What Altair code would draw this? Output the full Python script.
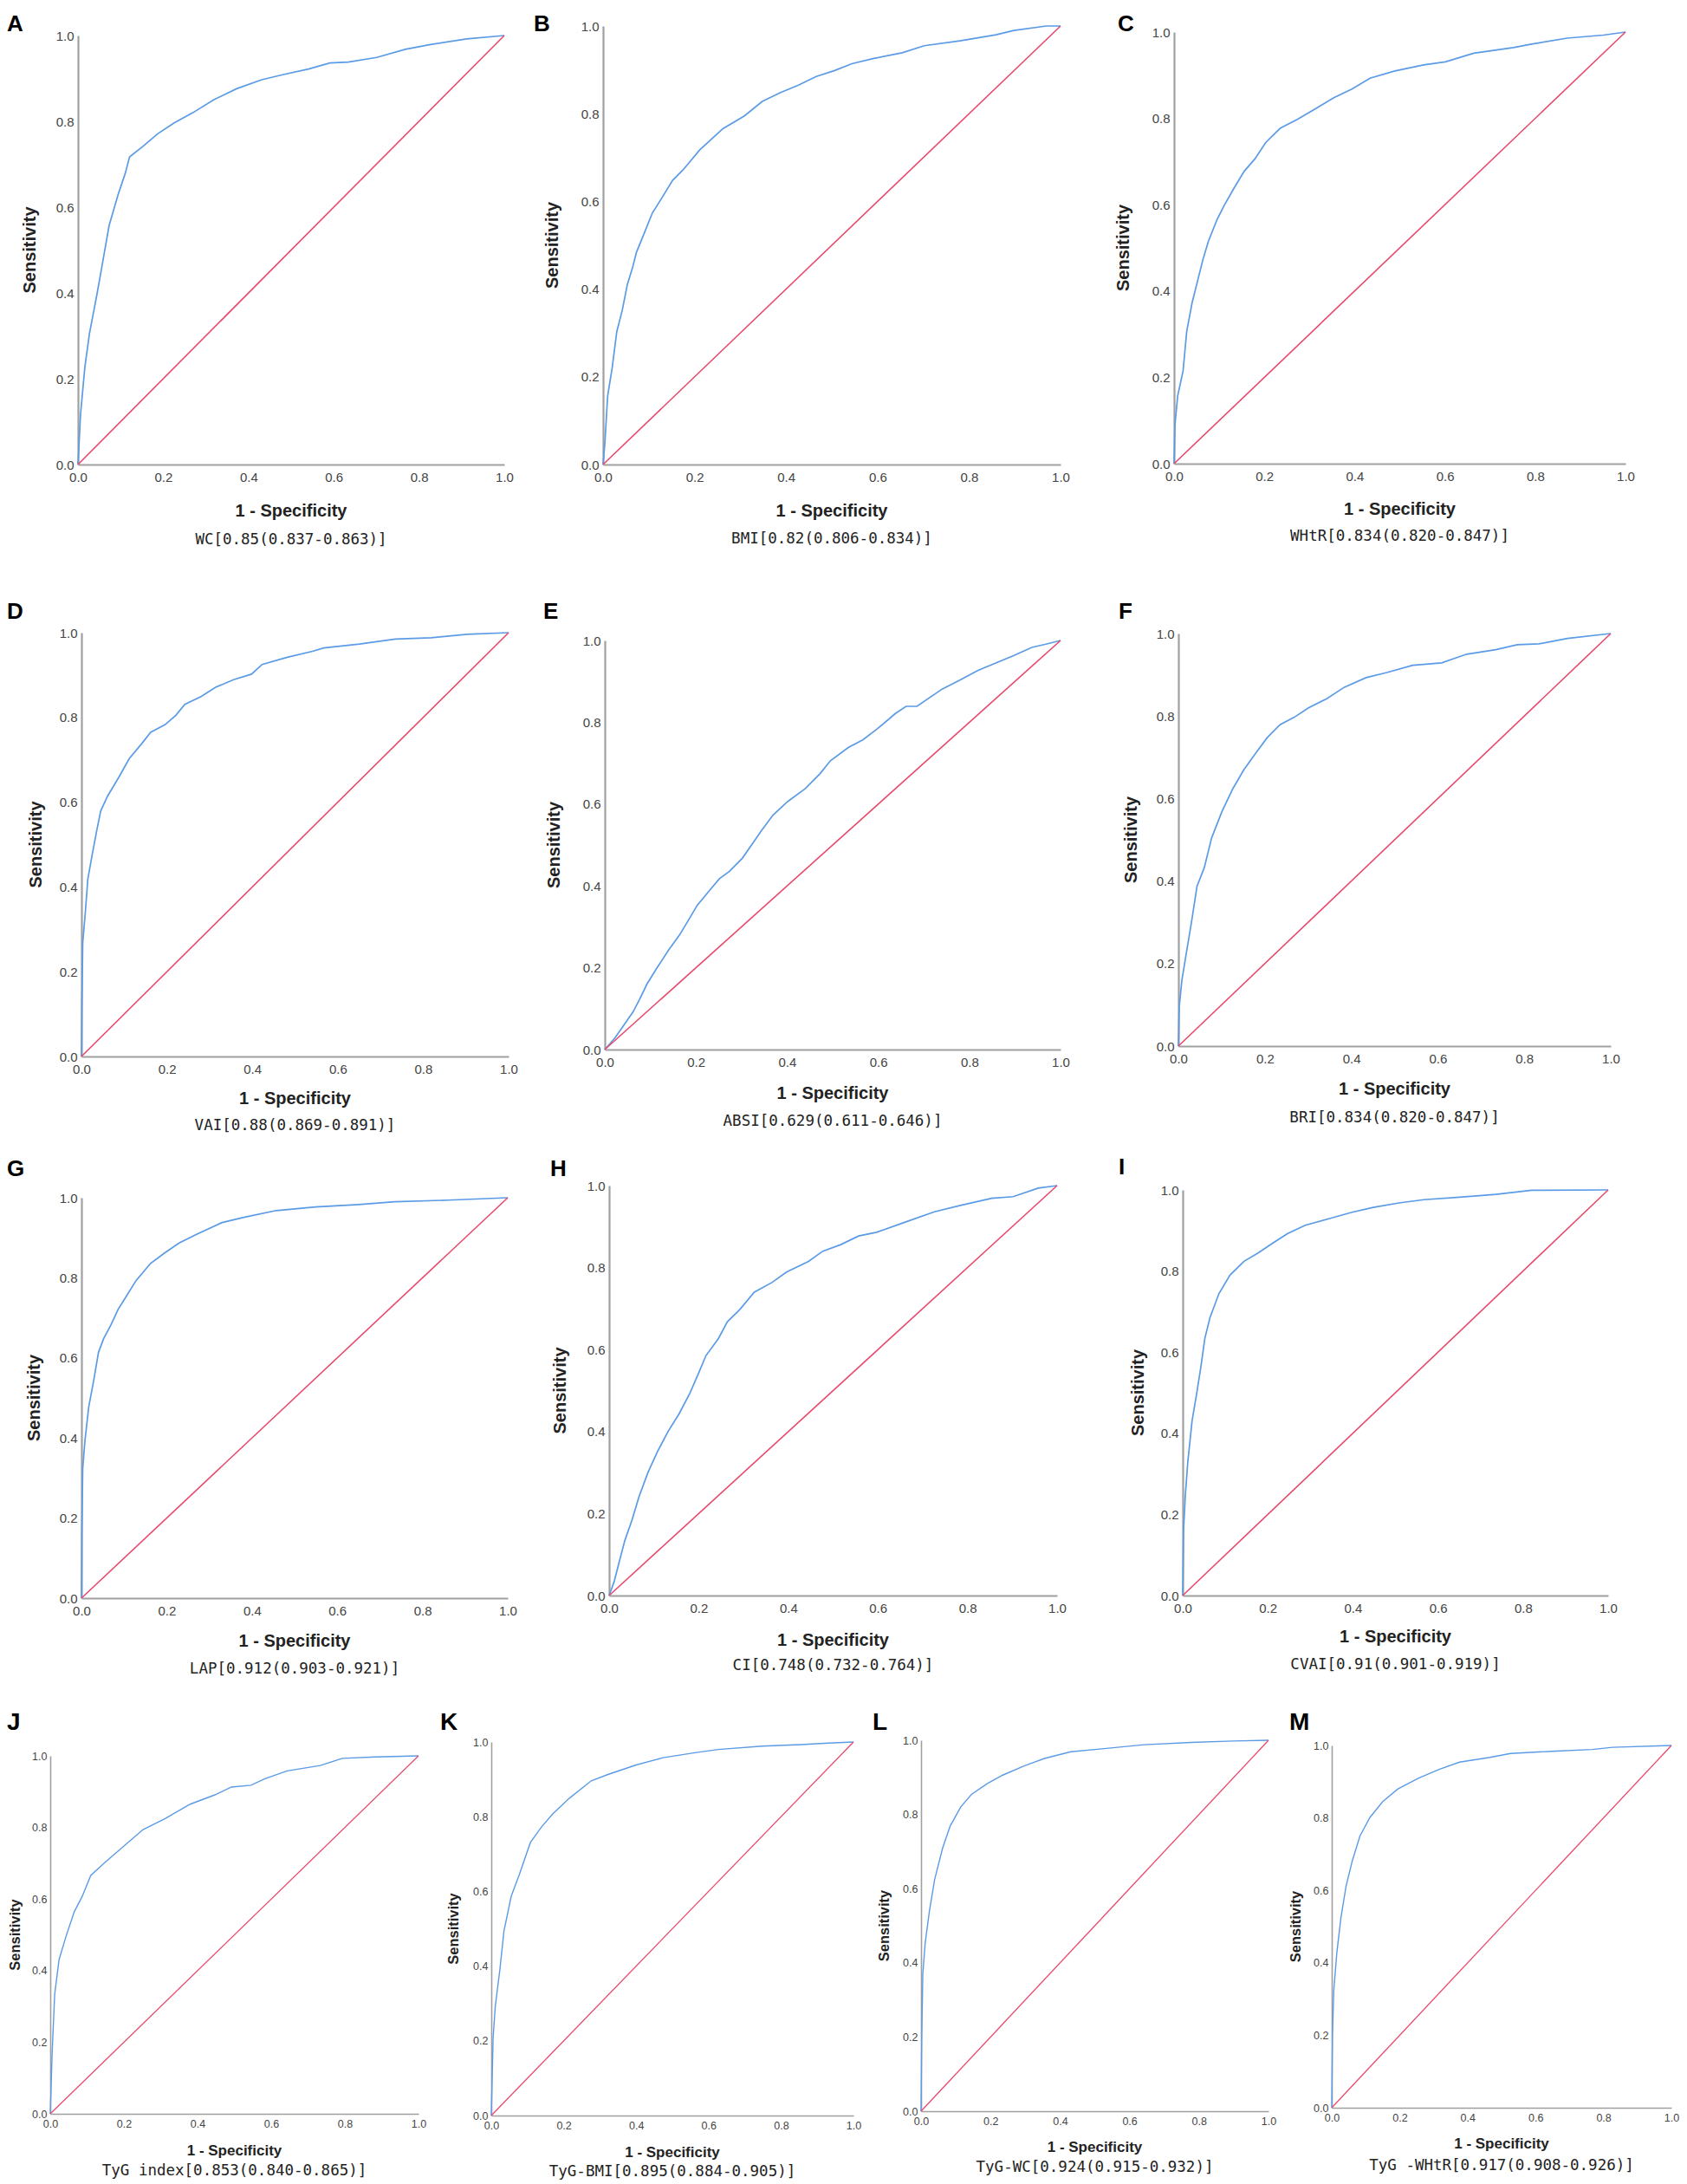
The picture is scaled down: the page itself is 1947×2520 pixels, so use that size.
import altair as alt
import pandas as pd

# ---------------- data ----------------
TICKS = [0.0, 0.2, 0.4, 0.6, 0.8, 1.0]

WC_FPR = [0, 0.006, 0.016, 0.027, 0.044, 0.056, 0.073, 0.094, 0.111, 0.121, 0.153, 0.187, 0.225, 0.271, 0.318, 0.372, 0.431, 0.482, 0.541, 0.591, 0.634, 0.701, 0.768, 0.827, 0.912, 1.0]
WC_TPR = [0, 0.117, 0.226, 0.306, 0.394, 0.461, 0.557, 0.629, 0.679, 0.717, 0.742, 0.771, 0.796, 0.821, 0.850, 0.876, 0.897, 0.909, 0.922, 0.936, 0.938, 0.949, 0.968, 0.979, 0.992, 1.0]

BMI_FPR = [0, 0.004, 0.010, 0.020, 0.030, 0.042, 0.053, 0.065, 0.073, 0.089, 0.108, 0.128, 0.152, 0.175, 0.211, 0.262, 0.309, 0.348, 0.387, 0.427, 0.466, 0.505, 0.544, 0.592, 0.654, 0.702, 0.780, 0.859, 0.898, 0.969, 1.0]
BMI_TPR = [0, 0.049, 0.156, 0.221, 0.303, 0.352, 0.410, 0.451, 0.484, 0.525, 0.574, 0.607, 0.648, 0.672, 0.717, 0.766, 0.795, 0.828, 0.848, 0.865, 0.885, 0.898, 0.914, 0.926, 0.939, 0.955, 0.966, 0.980, 0.990, 1.0, 1.0]

WHTR_FPR = [0, 0.002, 0.008, 0.020, 0.028, 0.040, 0.052, 0.064, 0.076, 0.095, 0.111, 0.131, 0.155, 0.179, 0.203, 0.235, 0.274, 0.314, 0.354, 0.394, 0.434, 0.489, 0.553, 0.601, 0.664, 0.752, 0.792, 0.871, 0.951, 1.0]
WHTR_TPR = [0, 0.090, 0.157, 0.215, 0.306, 0.373, 0.423, 0.473, 0.515, 0.565, 0.598, 0.635, 0.677, 0.706, 0.744, 0.777, 0.798, 0.823, 0.848, 0.868, 0.893, 0.910, 0.924, 0.931, 0.951, 0.964, 0.972, 0.986, 0.993, 1.0]

VAI_FPR = [0, 0.001, 0.003, 0.009, 0.015, 0.026, 0.036, 0.045, 0.061, 0.087, 0.112, 0.141, 0.162, 0.196, 0.221, 0.242, 0.280, 0.314, 0.356, 0.398, 0.423, 0.482, 0.541, 0.567, 0.651, 0.735, 0.819, 0.903, 1.0]
VAI_TPR = [0, 0.117, 0.268, 0.339, 0.419, 0.481, 0.534, 0.579, 0.614, 0.658, 0.703, 0.738, 0.765, 0.783, 0.805, 0.831, 0.849, 0.871, 0.889, 0.902, 0.925, 0.942, 0.956, 0.964, 0.973, 0.985, 0.988, 0.996, 1.0]

ABSI_FPR = [0, 0.022, 0.042, 0.062, 0.077, 0.093, 0.113, 0.140, 0.164, 0.184, 0.203, 0.227, 0.251, 0.274, 0.302, 0.322, 0.345, 0.369, 0.401, 0.440, 0.472, 0.495, 0.535, 0.566, 0.598, 0.637, 0.661, 0.685, 0.740, 0.779, 0.819, 0.858, 0.897, 0.937, 0.968, 1.0]
ABSI_TPR = [0, 0.028, 0.060, 0.092, 0.124, 0.161, 0.197, 0.243, 0.280, 0.317, 0.353, 0.385, 0.417, 0.436, 0.468, 0.500, 0.537, 0.573, 0.606, 0.638, 0.674, 0.706, 0.739, 0.757, 0.784, 0.821, 0.839, 0.839, 0.881, 0.903, 0.927, 0.945, 0.963, 0.983, 0.991, 1.0]

BRI_FPR = [0, 0.002, 0.008, 0.018, 0.031, 0.043, 0.060, 0.077, 0.101, 0.126, 0.151, 0.176, 0.205, 0.235, 0.268, 0.301, 0.343, 0.384, 0.434, 0.484, 0.542, 0.609, 0.667, 0.734, 0.784, 0.834, 0.900, 1.0]
BRI_TPR = [0, 0.096, 0.159, 0.223, 0.305, 0.387, 0.433, 0.505, 0.569, 0.624, 0.669, 0.706, 0.747, 0.779, 0.797, 0.820, 0.842, 0.870, 0.893, 0.906, 0.923, 0.929, 0.950, 0.961, 0.973, 0.975, 0.988, 1.0]

LAP_FPR = [0, 0.001, 0.003, 0.008, 0.017, 0.029, 0.040, 0.052, 0.069, 0.086, 0.103, 0.128, 0.162, 0.195, 0.229, 0.271, 0.330, 0.381, 0.457, 0.549, 0.650, 0.735, 0.861, 1.0]
LAP_TPR = [0, 0.169, 0.323, 0.391, 0.477, 0.545, 0.614, 0.648, 0.682, 0.721, 0.750, 0.793, 0.836, 0.862, 0.887, 0.909, 0.938, 0.951, 0.968, 0.977, 0.983, 0.990, 0.994, 1.0]

CI_FPR = [0, 0.011, 0.023, 0.035, 0.051, 0.067, 0.087, 0.108, 0.132, 0.156, 0.180, 0.200, 0.216, 0.244, 0.264, 0.292, 0.324, 0.364, 0.396, 0.445, 0.477, 0.517, 0.557, 0.597, 0.661, 0.726, 0.782, 0.854, 0.902, 0.958, 1.0]
CI_TPR = [0, 0.033, 0.084, 0.134, 0.184, 0.242, 0.301, 0.351, 0.401, 0.443, 0.493, 0.543, 0.585, 0.627, 0.668, 0.698, 0.740, 0.764, 0.789, 0.815, 0.840, 0.856, 0.877, 0.886, 0.911, 0.936, 0.951, 0.969, 0.973, 0.994, 1.0]

CVAI_FPR = [0, 0.002, 0.006, 0.012, 0.022, 0.033, 0.043, 0.052, 0.064, 0.085, 0.111, 0.144, 0.178, 0.212, 0.246, 0.288, 0.347, 0.398, 0.448, 0.508, 0.567, 0.651, 0.736, 0.820, 1.0]
CVAI_TPR = [0, 0.161, 0.245, 0.330, 0.431, 0.499, 0.566, 0.634, 0.685, 0.744, 0.790, 0.824, 0.845, 0.869, 0.892, 0.913, 0.930, 0.945, 0.957, 0.968, 0.976, 0.982, 0.989, 0.999, 1.0]

TYG_FPR = [0, 0.005, 0.012, 0.024, 0.042, 0.065, 0.087, 0.110, 0.147, 0.192, 0.252, 0.312, 0.380, 0.447, 0.492, 0.545, 0.583, 0.643, 0.733, 0.793, 0.883, 1.0]
TYG_TPR = [0, 0.166, 0.334, 0.431, 0.493, 0.564, 0.608, 0.666, 0.701, 0.741, 0.794, 0.825, 0.865, 0.891, 0.913, 0.918, 0.936, 0.958, 0.973, 0.993, 0.997, 1.0]

TYGBMI_FPR = [0, 0.005, 0.011, 0.024, 0.035, 0.055, 0.078, 0.108, 0.139, 0.169, 0.215, 0.276, 0.322, 0.398, 0.474, 0.566, 0.627, 0.748, 0.855, 0.931, 1.0]
TYGBMI_TPR = [0, 0.207, 0.292, 0.393, 0.494, 0.587, 0.647, 0.731, 0.773, 0.807, 0.849, 0.896, 0.913, 0.938, 0.958, 0.972, 0.980, 0.989, 0.993, 0.997, 1.0]

TYGWC_FPR = [0, 0.002, 0.005, 0.012, 0.024, 0.039, 0.062, 0.084, 0.114, 0.145, 0.190, 0.235, 0.295, 0.355, 0.431, 0.521, 0.642, 0.777, 0.898, 1.0]
TYGWC_TPR = [0, 0.198, 0.369, 0.454, 0.539, 0.624, 0.709, 0.769, 0.820, 0.854, 0.883, 0.906, 0.930, 0.951, 0.969, 0.977, 0.988, 0.994, 0.998, 1.0]

TYGWHTR_FPR = [0, 0.002, 0.006, 0.015, 0.027, 0.042, 0.060, 0.083, 0.113, 0.150, 0.195, 0.256, 0.316, 0.376, 0.466, 0.526, 0.647, 0.767, 0.827, 1.0]
TYGWHTR_TPR = [0, 0.194, 0.324, 0.428, 0.524, 0.611, 0.680, 0.750, 0.802, 0.845, 0.880, 0.910, 0.934, 0.954, 0.967, 0.978, 0.984, 0.989, 0.995, 1.0]

DIAG = [0.0, 1.0]

LETTERS = ["A", "B", "C", "D", "E", "F", "G", "H", "I", "J", "K", "L", "M"]
SUBTITLES = [
    "WC[0.85(0.837-0.863)]",
    "BMI[0.82(0.806-0.834)]",
    "WHtR[0.834(0.820-0.847)]",
    "VAI[0.88(0.869-0.891)]",
    "ABSI[0.629(0.611-0.646)]",
    "BRI[0.834(0.820-0.847)]",
    "LAP[0.912(0.903-0.921)]",
    "CI[0.748(0.732-0.764)]",
    "CVAI[0.91(0.901-0.919)]",
    "TyG index[0.853(0.840-0.865)]",
    "TyG-BMI[0.895(0.884-0.905)]",
    "TyG-WC[0.924(0.915-0.932)]",
    "TyG -WHtR[0.917(0.908-0.926)]",
]
CURVES = [
    (WC_FPR, WC_TPR), (BMI_FPR, BMI_TPR), (WHTR_FPR, WHTR_TPR),
    (VAI_FPR, VAI_TPR), (ABSI_FPR, ABSI_TPR), (BRI_FPR, BRI_TPR),
    (LAP_FPR, LAP_TPR), (CI_FPR, CI_TPR), (CVAI_FPR, CVAI_TPR),
    (TYG_FPR, TYG_TPR), (TYGBMI_FPR, TYGBMI_TPR), (TYGWC_FPR, TYGWC_TPR),
    (TYGWHTR_FPR, TYGWHTR_TPR),
]

# ---------------- layout / style (pixels) ----------------
BLUE = "#5b9be6"
RED = "#e84a6d"
SANS = "Liberation Sans"
MONO = "DejaVu Sans Mono"

ROWS = [
    dict(T=22, below=661, big=True),
    dict(T=39, below=603, big=True),
    dict(T=35, below=603, big=True),
    dict(T=37, below=505, big=False),
]
# xr0: plot left relative to the cell origin; P/E: left/right extent of the cell
# relative to the origin; lx, sx relative to the plot left edge.
LAYOUT = [
    dict(row=0, xr0=32, P=50, E=552, w=492, h=506, ytop=11, lx=-82, ly=6, sx=-55, tdy=54, sdy=87),
    dict(row=0, xr0=0, P=86, E=584, w=528, h=506, ytop=0, lx=-80, ly=6, sx=-58, tdy=54, sdy=86),
    dict(row=0, xr0=0, P=75, E=584, w=521, h=505, ytop=7, lx=-65, ly=6, sx=-58, tdy=53, sdy=84),
    dict(row=1, xr0=36, P=50, E=557, w=493, h=489, ytop=0, lx=-86, ly=-16, sx=-52, tdy=49, sdy=80),
    dict(row=1, xr0=0, P=83, E=582, w=526, h=481, ytop=9, lx=-71, ly=-16, sx=-58, tdy=51, sdy=83),
    dict(row=1, xr0=0, P=80, E=579, w=499, h=477, ytop=1, lx=-69, ly=-16, sx=-54, tdy=50, sdy=83),
    dict(row=2, xr0=36, P=50, E=562, w=492, h=476, ytop=14, lx=-86, ly=-11, sx=-54, tdy=50, sdy=82),
    dict(row=2, xr0=0, P=83, E=579, w=517, h=473, ytop=0, lx=-68, ly=-11, sx=-56, tdy=52, sdy=81),
    dict(row=2, xr0=0, P=83, E=574, w=491, h=473, ytop=5, lx=-74, ly=-13, sx=-51, tdy=48, sdy=80),
    dict(row=3, xr0=0, P=50, E=437, w=425, h=431, ytop=18, lx=-50, ly=-12, sx=-40, tdy=43, sdy=66),
    dict(row=3, xr0=0, P=72, E=433, w=418, h=433, ytop=2, lx=-59, ly=-12, sx=-43, tdy=43, sdy=65),
    dict(row=3, xr0=0, P=63, E=417, w=401, h=428, ytop=0, lx=-56, ly=-12, sx=-42, tdy=42, sdy=65),
    dict(row=3, xr0=0, P=57, E=402, w=392, h=424, ytop=6, lx=-49, ly=-12, sx=-41, tdy=42, sdy=67),
]

ONE = pd.DataFrame({"k": [0]})


def panel(i):
    L = LAYOUT[i]
    row = ROWS[L["row"]]
    big = row["big"]
    w, h, ytop, x0 = L["w"], L["h"], L["ytop"], L["xr0"]
    tick_fs = 15 if big else 12.5
    dom_w = 2.2 if big else 1.6
    fpr, tpr = CURVES[i]
    curve_df = pd.DataFrame({"fpr": fpr, "tpr": tpr, "ord": list(range(len(fpr)))})
    diag_df = pd.DataFrame({"fpr": DIAG, "tpr": DIAG})

    xs = alt.Scale(domain=[0, 1], nice=False, zero=False, range=[x0, x0 + w])
    ys = alt.Scale(domain=[0, 1], nice=False, zero=False, range=[h, ytop])
    common = dict(values=TICKS, format=".1f", title=None, grid=False, ticks=False,
                  tickSize=0, domainColor="#a0a0a0", domainWidth=dom_w,
                  labelColor="#444444", labelFont=SANS, labelFontSize=tick_fs,
                  labelFlush=False, labelOverlap=False)
    xa = alt.Axis(labelPadding=7 if big else 5, **common)
    ya = alt.Axis(labelPadding=5 if big else 4, offset=-x0, **common)

    curve = alt.Chart(curve_df).mark_line(color=BLUE, strokeWidth=1.7 if big else 1.4).encode(
        x=alt.X("fpr:Q", scale=xs, axis=xa),
        y=alt.Y("tpr:Q", scale=ys, axis=ya),
        order="ord:Q",
    )
    diag = alt.Chart(diag_df).mark_line(color=RED, strokeWidth=1.6 if big else 1.3).encode(
        x=alt.X("fpr:Q", scale=xs, axis=xa),
        y=alt.Y("tpr:Q", scale=ys, axis=ya),
    )
    letter = alt.Chart(ONE).mark_text(
        text=LETTERS[i], align="left", baseline="alphabetic", font=SANS,
        fontSize=26 if big else 28, fontWeight="bold", color="#000000",
    ).encode(x=alt.value(x0 + L["lx"]), y=alt.value(L["ly"]))
    sens = alt.Chart(ONE).mark_text(
        text="Sensitivity", angle=270, align="center", baseline="middle", font=SANS,
        fontSize=20 if big else 16.5, fontWeight="bold", color="#222222",
    ).encode(x=alt.value(x0 + L["sx"]), y=alt.value((h + ytop) / 2))
    xtitle = alt.Chart(ONE).mark_text(
        text="1 - Specificity", align="center", baseline="middle", font=SANS,
        fontSize=20 if big else 17, fontWeight="bold", color="#222222",
    ).encode(x=alt.value(x0 + w / 2), y=alt.value(h + L["tdy"]))
    sub = alt.Chart(ONE).mark_text(
        text=SUBTITLES[i], align="center", baseline="middle", font=MONO,
        fontSize=17.5, color="#222222",
    ).encode(x=alt.value(x0 + w / 2), y=alt.value(h + L["sdy"]))
    extent = alt.Chart(ONE).mark_rule(opacity=0, strokeWidth=0).encode(
        x=alt.value(-L["P"]), x2=alt.value(L["E"]),
        y=alt.value(-row["T"]), y2=alt.value(row["below"]),
    )
    return alt.layer(extent, curve, diag, letter, sens, xtitle, sub).properties(
        width=w, height=h)


rows = []
for r in range(4):
    idx = [i for i, L in enumerate(LAYOUT) if L["row"] == r]
    rows.append(alt.hconcat(*[panel(i) for i in idx], spacing=0))

chart = alt.vconcat(*rows, spacing=0).properties(
    padding=0, background="white"
).configure_view(strokeWidth=0, strokeOpacity=0)

chart.save("out.html", embed_options={"renderer": "svg", "actions": False})
